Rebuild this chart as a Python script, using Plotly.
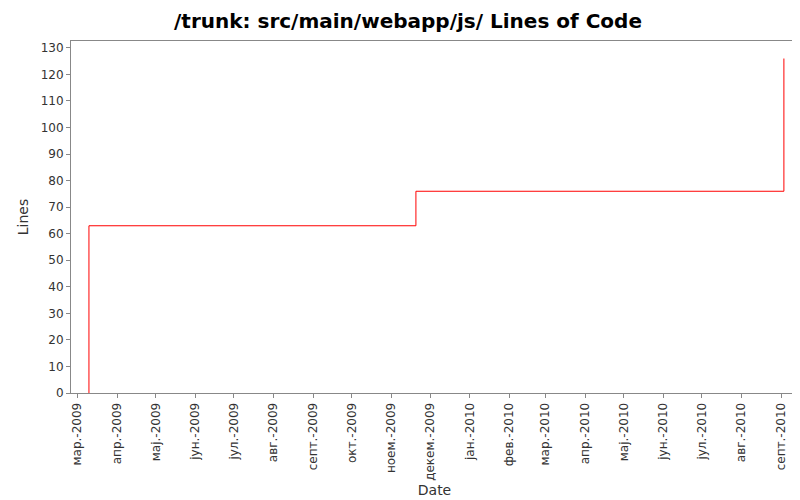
import plotly.graph_objects as go

dates = ["2009-03-10", "2009-03-10", "2009-11-20", "2010-09-03", "2010-09-03"]
lines = [0, 63, 76, 76, 126]
tick_dates = ["2009-03-01","2009-04-01","2009-05-01","2009-06-01","2009-07-01","2009-08-01",
              "2009-09-01","2009-10-01","2009-11-01","2009-12-01","2010-01-01","2010-02-01",
              "2010-03-01","2010-04-01","2010-05-01","2010-06-01","2010-07-01","2010-08-01","2010-09-01"]
tick_labels = ["мар.-2009","апр.-2009","мај.-2009","јун.-2009","јул.-2009","авг.-2009",
               "септ.-2009","окт.-2009","ноем.-2009","декем.-2009","јан.-2010","фев.-2010",
               "мар.-2010","апр.-2010","мај.-2010","јун.-2010","јул.-2010","авг.-2010","септ.-2010"]

fig = go.Figure(go.Scatter(x=dates, y=lines, mode="lines", line=dict(color="red", width=1, shape="hv")))
fig.update_layout(
    width=800, height=500, plot_bgcolor="white", paper_bgcolor="white",
    margin=dict(l=63, r=10, t=33, b=115, autoexpand=False),
    title=dict(text="<b>/trunk: src/main/webapp/js/ Lines of Code</b>", x=0.5, y=0.975, yanchor="middle",
               font=dict(family="DejaVu Sans", size=20, color="black")),
    font=dict(family="DejaVu Sans", size=12, color="#333"),
    showlegend=False,
)
fig.update_xaxes(range=["2009-02-24", "2010-09-14"], tickvals=tick_dates, ticktext=tick_labels,
                 tickangle=-90, ticks="outside", ticklen=4, tickcolor="#888", showgrid=False,
                 showline=True, linecolor="#888", mirror=True, automargin=False,
                 title=dict(text="Date", font=dict(size=14), standoff=5))
fig.update_yaxes(range=[0, 132.6], dtick=10, ticks="outside", ticklen=4, tickcolor="#888",
                 showgrid=False, showline=True, linecolor="#888", mirror=True, zeroline=False,
                 automargin=False,
                 title=dict(text="Lines", font=dict(size=14), standoff=8))
fig.write_html("out.html")
